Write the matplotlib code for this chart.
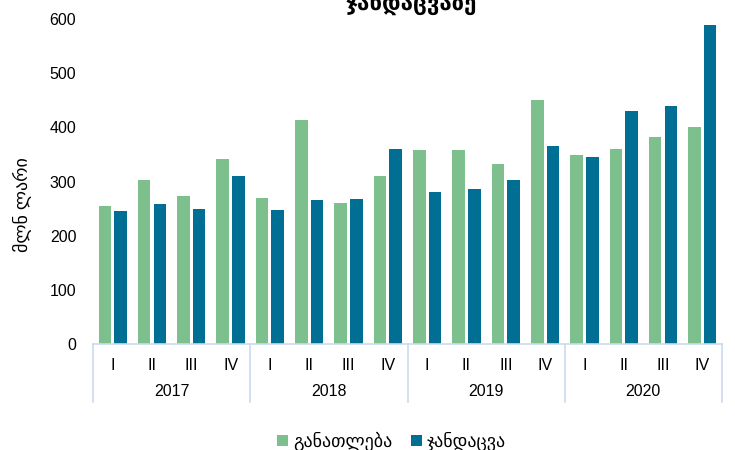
import matplotlib
matplotlib.use("Agg")
import matplotlib.pyplot as plt
import matplotlib.transforms as mtransforms
import numpy as np

plt.rcParams['font.family'] = ['Liberation Sans', 'DejaVu Sans']

# მონაცემები (მლნ ლარი)
years = ['2017', '2018', '2019', '2020']
quarters = ['I', 'II', 'III', 'IV']
education = [255, 302, 273, 342,
             270, 413, 260, 311,
             358, 359, 332, 450,
             348, 360, 382, 400]
health = [245, 258, 250, 310,
          248, 266, 268, 360,
          281, 286, 302, 365,
          346, 431, 439, 588]

green = '#7EBF8E'
blue = '#016F93'
axis_col = '#C9DAF0'

fig = plt.figure(figsize=(7.35, 4.5), dpi=100)
ax = fig.add_axes([93 / 735, 1 - 344 / 450, (722 - 93) / 735, 325 / 450])

x = np.arange(len(education))
w = 0.32
ax.bar(x - w / 2 - 0.04, education, width=w, color=green, label='განათლება', zorder=2)
ax.bar(x + w / 2 + 0.04, health, width=w, color=blue, label='ჯანდაცვა', zorder=2)

ax.set_xlim(-0.5, len(x) - 0.5)
ax.set_ylim(0, 600)
ax.set_yticks(range(0, 601, 100))
ax.tick_params(axis='y', length=0, pad=12, labelsize=11.5)
ax.set_xticks([])
for s in ['left', 'right', 'top']:
    ax.spines[s].set_visible(False)
ax.spines['bottom'].set_color(axis_col)
ax.spines['bottom'].set_linewidth(1.2)

# ორდონიანი ღერძის წარწერები
trans = mtransforms.blended_transform_factory(ax.transData, ax.transAxes)
for i in x:
    ax.text(i, -22 / 325, quarters[i % 4], transform=trans, ha='center', va='center', fontsize=11.5)
for k, yr in enumerate(years):
    ax.text(k * 4 + 1.5, -48 / 325, yr, transform=trans, ha='center', va='center', fontsize=11.5)
for b in [-0.5, 3.5, 7.5, 11.5, 15.5]:
    ax.plot([b, b], [0, -58 / 325], transform=trans, color=axis_col, lw=1.2, clip_on=False)

ax.set_ylabel('მლნ ლარი', fontsize=13)
ax.yaxis.set_label_coords(-61 / 629, 0.43)

fig.text(411 / 735, 1 - 10 / 450, 'ჯანდაცვაზე', ha='center', va='baseline',
         fontsize=16, weight='bold')

ax.legend(loc='center', bbox_to_anchor=(0.475, -0.3), ncol=2, frameon=False,
          fontsize=13, handlelength=0.6, handleheight=0.6, handletextpad=0.3,
          columnspacing=1.0)

fig.savefig('out.png', dpi=100)
